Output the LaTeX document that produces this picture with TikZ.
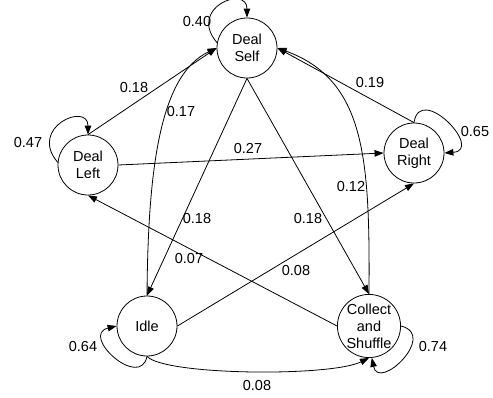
\documentclass[tikz,border=0pt]{standalone}
\usepackage{fontspec}
\setmainfont{Liberation Sans}
\usetikzlibrary{arrows.meta}

\tikzset{
  state/.style={draw, circle, minimum size=60pt, inner sep=0pt, align=center, line width=0.8pt},
  prob/.style={inner sep=0pt},
  trans/.style={-{Triangle[length=9pt,width=6.5pt]}, line width=0.8pt},
}

\begin{document}
\begin{tikzpicture}[x=1pt,y=1pt,font=\fontsize{14.5}{17}\selectfont]
        \useasboundingbox (0,0) rectangle (493,-397);

        \node[state] (dealself) at (247,-48) {Deal\\Self};
        \node[state] (dealleft) at (88,-165) {Deal\\Left};
        \node[state] (dealright) at (414,-153) {Deal\\Right};
        \node[state] (idle) at (147,-326) {Idle};
        \node[state] (collect) at (369,-326) {Collect\\and\\Shuffle};

        % self loops
        \draw[trans] (dealself.170) .. controls +(-30,35) and +(0,33) .. (dealself.north);
        \draw[trans] (dealleft.175) .. controls +(-30,35) and +(0,33) .. (dealleft.north);
        \draw[trans] (dealright.north) .. controls +(6,40) and +(40,3) .. (dealright.east);
        \draw[trans] (idle.south) .. controls +(-7,-34) and +(-37,-9) .. (idle.west);
        \draw[trans] (collect.east) .. controls +(37,-9) and +(7,-34) .. (collect.-85);

        \draw[trans] (dealleft.north) -- (dealself.west);
        \draw[trans] (dealright.north) -- (dealself.east);
        \draw[trans] (dealleft.east) -- (dealright.west);
        \draw[trans] (dealself.south) -- (idle.north);
        \draw[trans] (dealself.south) -- (collect.north);
        \draw[trans] (idle.north) .. controls +(1,126) and +(-57,-27) .. (dealself.west);
        \draw[trans] (collect.north) .. controls +(1,136) and +(88,-32) .. (dealself.east);
        \draw[trans] (idle.east) -- (dealright.south);
        \draw[trans] (collect.west) -- (dealleft.south);
        \draw[trans] (idle.south) .. controls +(18,-19) and +(-39,-19) .. (collect.south);

        \node[prob] (pselfself) at (197,-22) {0.40};
        \node[prob] (pleftleft) at (28,-143) {0.47};
        \node[prob] (pleftself) at (134,-88) {0.18};
        \node[prob] (pidleself) at (181,-112) {0.17};
        \node[prob] (prightself) at (370,-83) {0.19};
        \node[prob] (prightright) at (475,-132) {0.65};
        \node[prob] (pleftright) at (248,-149) {0.27};
        \node[prob] (pcollectself) at (351,-187) {0.12};
        \node[prob] (pselfidle) at (197,-219) {0.18};
        \node[prob] (pselfcollect) at (308,-219) {0.18};
        \node[prob] (pcollectleft) at (189,-259) {0.07};
        \node[prob] (pidleright) at (296,-271) {0.08};
        \node[prob] (pidleidle) at (83,-347) {0.64};
        \node[prob] (pcollectcollect) at (433,-347) {0.74};
        \node[prob] (pidlecollect) at (257,-386) {0.08};

\end{tikzpicture}
\end{document}
